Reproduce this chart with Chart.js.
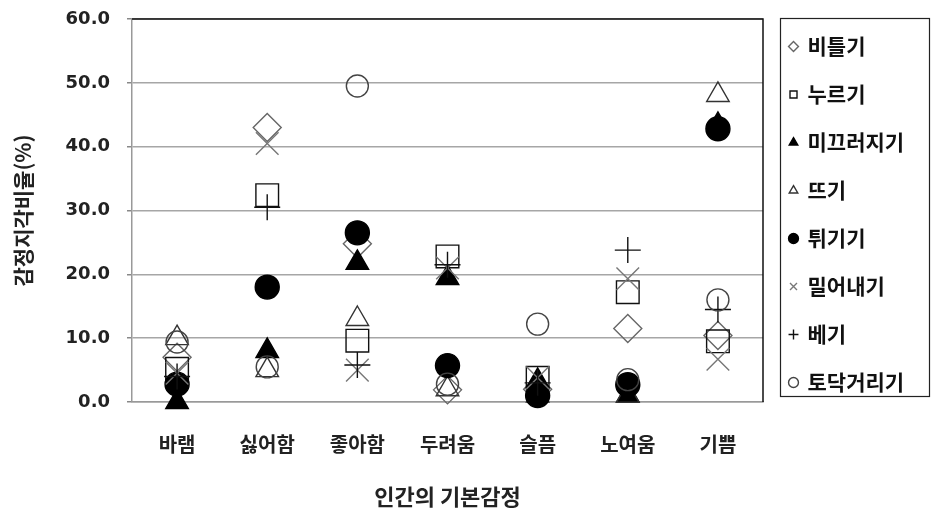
<!DOCTYPE html>
<html>
<head>
<meta charset="utf-8">
<script src="https://cdn.jsdelivr.net/npm/chart.js@4/dist/chart.umd.min.js"></script>
<style>
  html, body { margin: 0; padding: 0; background: #fff; }
  #wrap { width: 932px; height: 515px; }
</style>
</head>
<body>
<div id="wrap"><canvas id="chart-1"></canvas></div>
<script>
// 인간의 기본감정
const emotions = ["바램", "싫어함", "좋아함", "두려움", "슬픔", "노여움", "기쁨"];

// 감정지각비율(%) by 동작
const twist   = [7.0, 43.0, 24.8, 1.9, 2.0, 11.5, 10.4];   // 비틀기
const press   = [5.2, 32.4, 9.6, 22.8, 3.8, 17.2, 9.5];    // 누르기
const slide   = [0.0, 8.0, 21.8, 19.4, 3.3, 1.0, 43.4];    // 미끄러지기
const lift    = [10.0, 5.0, 13.0, 2.0, 1.0, 1.0, 48.1];    // 뜨기
const flick   = [2.8, 18.0, 26.5, 5.7, 1.0, 2.7, 42.8];    // 튀기기
const push    = [4.5, 40.5, 5.0, 21.0, 3.8, 19.3, 6.7];    // 밀어내기
const cut     = [4.0, 30.5, 5.8, 21.5, 3.0, 23.8, 14.5];   // 베기
const pat     = [9.4, 5.5, 49.5, 2.8, 12.2, 3.5, 16.0];    // 토닥거리기

const yTicks = [0, 10, 20, 30, 40, 50, 60];

const series = [
  { label: "비틀기",     data: twist, style: "rectRot",  r: 14, color: "#666", fill: "transparent" },
  { label: "누르기",     data: press, style: "rect",     r: 16, color: "#111", fill: "transparent" },
  { label: "미끄러지기", data: slide, style: "triangle", r: 13, color: "#000", fill: "#000" },
  { label: "뜨기",       data: lift,  style: "triangle", r: 13, color: "#333", fill: "transparent" },
  { label: "튀기기",     data: flick, style: "circle",   r: 12, color: "#000", fill: "#000" },
  { label: "밀어내기",   data: push,  style: "crossRot", r: 16, color: "#777", fill: "transparent" },
  { label: "베기",       data: cut,   style: "cross",    r: 13, color: "#111", fill: "transparent" },
  { label: "토닥거리기", data: pat,   style: "circle",   r: 11, color: "#444", fill: "transparent" },
];

const datasets = series.map((s, i) => ({
  label: s.label,
  data: s.data,
  showLine: false,
  pointStyle: s.style,
  pointRadius: s.r,
  pointHoverRadius: s.r,
  borderColor: s.color,
  backgroundColor: s.fill,
  borderWidth: 1.4,
  order: series.length - i, // later series drawn on top, like Excel
  clip: false,
}));

// 그림 테두리 + 범례 상자
const frame = {
  id: "frame",
  afterLayout(chart) {
    // 범례를 조금 위로
    chart.legend.top -= 10;
    chart.legend.bottom -= 10;
  },
  beforeDatasetsDraw(chart) {
    const { ctx, chartArea: a } = chart;
    ctx.save();
    ctx.strokeStyle = "#111";
    ctx.lineWidth = 1.5;
    ctx.beginPath();
    ctx.moveTo(a.left, a.top);
    ctx.lineTo(a.right, a.top);
    ctx.lineTo(a.right, a.bottom);
    ctx.stroke();
    ctx.restore();
  },
  afterDraw(chart) {
    const { ctx, chartArea: a } = chart;
    ctx.save();
    ctx.strokeStyle = "#222";
    ctx.lineWidth = 1.2;
    ctx.strokeRect(780.5, a.top - 0.5, 149, 378);
    ctx.restore();
  },
};

const ctx1 = document.getElementById("chart-1").getContext("2d");
const myChart = new Chart(ctx1, {
  type: "line",
  data: { labels: emotions, datasets: datasets },
  plugins: [frame],
  options: {
    responsive: true,
    maintainAspectRatio: false,
    animation: false,
    layout: { padding: { top: 19, right: 19, bottom: 0, left: 0 } },
    plugins: {
      tooltip: { enabled: false },
      legend: {
        position: "right",
        align: "start",
        maxWidth: 150,
        labels: {
          usePointStyle: true,
          boxWidth: 7,
          boxHeight: 7,
          padding: 27,
          color: "#111",
          font: { family: "'Noto Sans CJK KR', sans-serif", size: 21, weight: "bold" },
          sort: (a, b) => a.datasetIndex - b.datasetIndex,
        },
      },
    },
    scales: {
      x: {
        offset: true,
        grid: { display: false, drawTicks: false },
        border: { color: "#999", width: 1.5 },
        ticks: {
          padding: 30,
          color: "#222",
          font: { family: "'Noto Sans CJK KR', sans-serif", size: 20, weight: "bold" },
        },
        title: {
          display: true,
          text: "인간의 기본감정",
          color: "#222",
          padding: { top: 0, bottom: 5 },
          font: { family: "'Noto Sans CJK KR', sans-serif", size: 22, weight: "bold" },
        },
        afterFit: (scale) => { scale.height = 113; },
      },
      y: {
        min: yTicks[0],
        max: yTicks[yTicks.length - 1],
        afterBuildTicks: (scale) => { scale.ticks = yTicks.map((v) => ({ value: v })); },
        grid: { color: "#a6a6a6", lineWidth: 1.5, tickLength: 5, tickColor: "#888" },
        border: { color: "#999", width: 1.5 },
        ticks: {
          padding: 17,
          color: "#222",
          font: { family: "'DejaVu Sans', Verdana, sans-serif", size: 18, weight: "bold" },
          callback: (v) => Number(v).toFixed(1),
        },
        title: {
          display: true,
          text: "감정지각비율(%)",
          color: "#222",
          padding: { top: 10, bottom: 0 },
          font: { family: "'Noto Sans CJK KR', sans-serif", size: 21, weight: "bold" },
        },
        afterFit: (scale) => {
          scale.width = 132;
          scale.paddingTop = 0;
          scale.paddingBottom = 0;
        },
      },
    },
  },
});
</script>
</body>
</html>
